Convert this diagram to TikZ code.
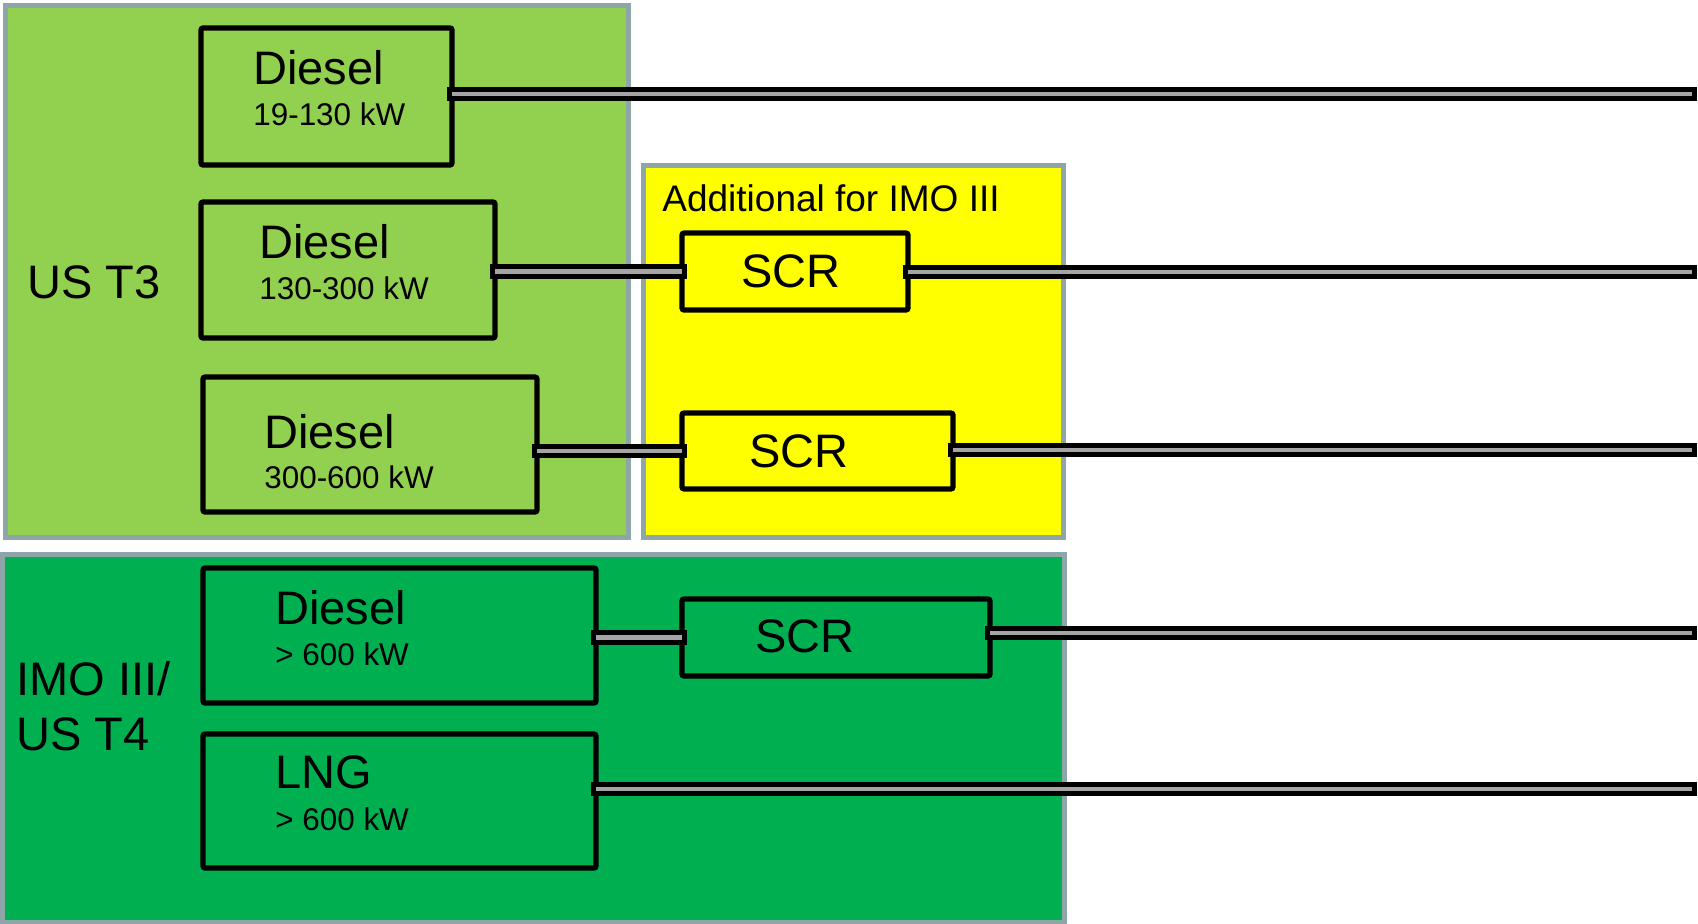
\documentclass[tikz,border=0pt]{standalone}
\usepackage{fontspec}
\setmainfont{Liberation Sans}
\usepackage{tikz}
\usetikzlibrary{fit, calc}
\definecolor{cL}{RGB}{146, 208, 80}
\definecolor{cY}{RGB}{255, 255, 0}
\definecolor{cD}{RGB}{0, 176, 80}
\definecolor{cG}{RGB}{142, 165, 169}
\definecolor{cP}{RGB}{165, 165, 165}
\tikzstyle{Zone}=[draw=cG,
		line width=2.5pt,
		inner sep=0pt]
\tikzstyle{Unit}=[draw=black,
		line width=2.6pt,
		rounded corners=1pt,
		inner sep=0pt]
\tikzstyle{Pipe}=[draw=black,
		line width=2.5pt,
		double=cP,
		double distance=2.3pt,
		line cap=rect]
\tikzstyle{Big}=[anchor=base west,
		inner sep=0pt,
		font=\fontsize{23.5}{27.5}\selectfont]
\tikzstyle{Small}=[anchor=base west,
		inner sep=0pt,
		font=\fontsize{15.7}{18}\selectfont]
\tikzstyle{Note}=[anchor=base west,
		inner sep=0pt,
		font=\fontsize{18.5}{22}\selectfont]

\begin{document}
\begin{tikzpicture}[x=0.5pt,y=-0.5pt]
  \useasboundingbox (0,0) rectangle (1698,923);

  % regulation zones
  \node [Zone,fill=cL,fit={(5,5) (628,537)}] (ust3) {};
  \node [Zone,fill=cY,fit={(643,165) (1063,537)}] (imo) {};
  \node [Zone,fill=cD,fit={(2,554) (1064,922)}] (ust4) {};

  \node [Big] (ust3t) at (27,298) {US T3};
  \node [Big,align=left] (ust4t) at (16,750) {IMO III/\\US T4};
  \node [Note] (imot) at (662,211) {Additional for IMO III};

  % engines
  \node [Unit,fill=cL,fit={(201,28) (452,165)}] (dieselA) {};
  \node [Unit,fill=cL,fit={(201,202) (495,338)}] (dieselB) {};
  \node [Unit,fill=cL,fit={(203,377) (537,512)}] (dieselC) {};
  \node [Unit,fill=cD,fit={(203,568) (596,703)}] (dieselD) {};
  \node [Unit,fill=cD,fit={(203,734) (596,868)}] (lng) {};

  \node [Big] (dieselAt) at (253,84) {Diesel};
  \node [Small] (dieselAs) at (253,125) {19-130 kW};
  \node [Big] (dieselBt) at (259,258) {Diesel};
  \node [Small] (dieselBs) at (259,299) {130-300 kW};
  \node [Big] (dieselCt) at (264,448) {Diesel};
  \node [Small] (dieselCs) at (264,488) {300-600 kW};
  \node [Big] (dieselDt) at (275,624) {Diesel};
  \node [Small] (dieselDs) at (275,665) {> 600 kW};
  \node [Big] (lngt) at (275,788) {LNG};
  \node [Small] (lngs) at (275,830) {> 600 kW};

  % aftertreatment
  \node [Unit,fill=cY,fit={(682,233) (908,310)}] (scrA) {};
  \node [Unit,fill=cY,fit={(682,413) (953,489)}] (scrB) {};
  \node [Unit,fill=cD,fit={(682,599) (990,676)}] (scrC) {};

  \node [Big] (scrAt) at (741,287) {SCR};
  \node [Big] (scrBt) at (749,467) {SCR};
  \node [Big] (scrCt) at (755,652) {SCR};

  % outlets
  \coordinate (outA) at (1690,94);
  \coordinate (outB) at (1690,272);
  \coordinate (outC) at (1690,450);
  \coordinate (outD) at (1690,633);
  \coordinate (outE) at (1690,789);

  \draw [Pipe] (dieselA.east |- outA) -- (outA);
  \draw [Pipe] (dieselB.east |- scrA.west) -- (scrA.west);
  \draw [Pipe] (scrA.east |- outB) -- (outB);
  \draw [Pipe] (dieselC.east |- scrB.west) -- (scrB.west);
  \draw [Pipe] (scrB.east |- outC) -- (outC);
  \draw [Pipe] (dieselD.east |- scrC.west) -- (scrC.west);
  \draw [Pipe] (scrC.east |- outD) -- (outD);
  \draw [Pipe] (lng.east |- outE) -- (outE);

\end{tikzpicture}
\end{document}
